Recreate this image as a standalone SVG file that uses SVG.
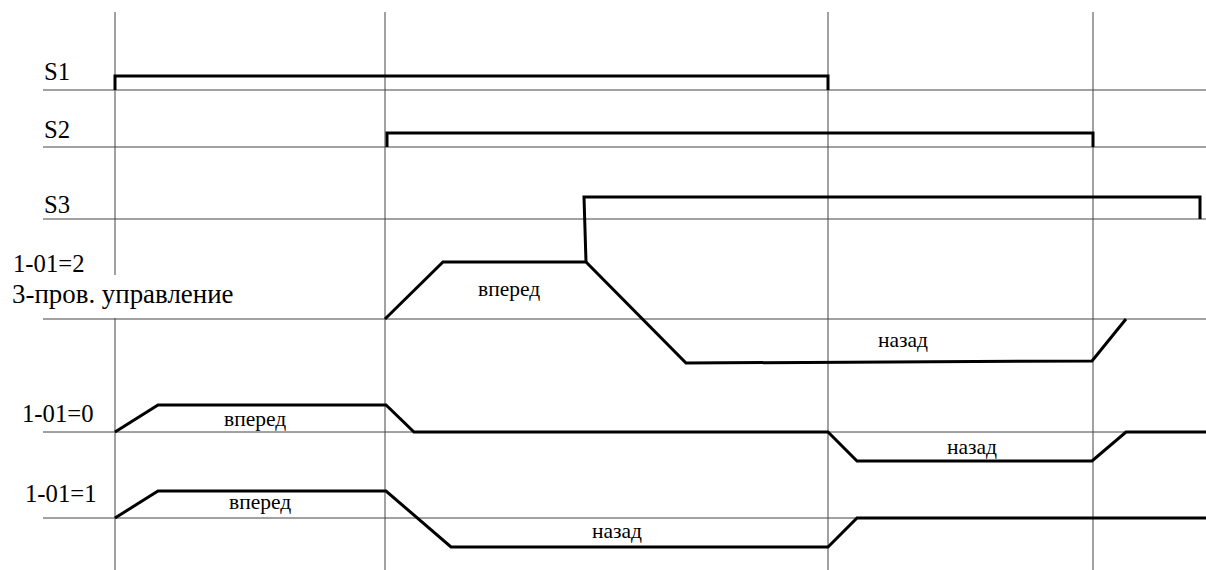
<svg xmlns="http://www.w3.org/2000/svg" width="1206" height="570" viewBox="0 0 1206 570">
<style>
.grid{stroke:#444;stroke-width:1;fill:none}
.sig{stroke:#000;stroke-width:3;fill:none;stroke-linejoin:miter}
text{font-family:'Liberation Serif','DejaVu Serif','Times New Roman',serif;fill:#000}
.lbl{font-size:24.7px}
.big{font-size:26.9px}
.sm{font-size:21.5px}
</style>
<g id="grid">
<path class="grid" d="M115 12V275M115 318V570M385 12V570M828 12V570M1093 12V570"/>
<path class="grid" d="M43 90H1206M43 147H1206M43 219H1206M43 319H1206M43 432H1206M43 518H1206"/>
</g>
<g id="labels">
<text class="lbl" x="44" y="80">S1</text>
<text class="lbl" x="44" y="138">S2</text>
<text class="lbl" x="44" y="213">S3</text>
<text class="lbl" x="13" y="272">1-01=2</text>
<text class="big" x="12" y="303">3-пров. управление</text>
<text class="lbl" x="22" y="422">1-01=0</text>
<text class="lbl" x="25" y="502">1-01=1</text>
</g>
<g id="connectors">
<g id="S1"><path class="sig" d="M115 90V76H828V90"/></g>
<g id="S2"><path class="sig" d="M387 147V133H1093V147"/></g>
<g id="S3"><path class="sig" d="M586 262L584 197H1200V219"/></g>
<g id="mode2">
<path class="sig" d="M385 319L443 262H586L686 363L1092 361L1126 319"/>
<text class="sm" x="478" y="296">вперед</text>
<text class="sm" x="878" y="347">назад</text>
</g>
<g id="mode0">
<path class="sig" d="M115 432L158 405H386L414 432H828L857 461H1092L1126 432H1206"/>
<text class="sm" x="224" y="426">вперед</text>
<text class="sm" x="947" y="454">назад</text>
</g>
<g id="mode1">
<path class="sig" d="M115 518L158 491H386L451 547H828L857 518H1206"/>
<text class="sm" x="229" y="509">вперед</text>
<text class="sm" x="592" y="538">назад</text>
</g>
</g>
</svg>
